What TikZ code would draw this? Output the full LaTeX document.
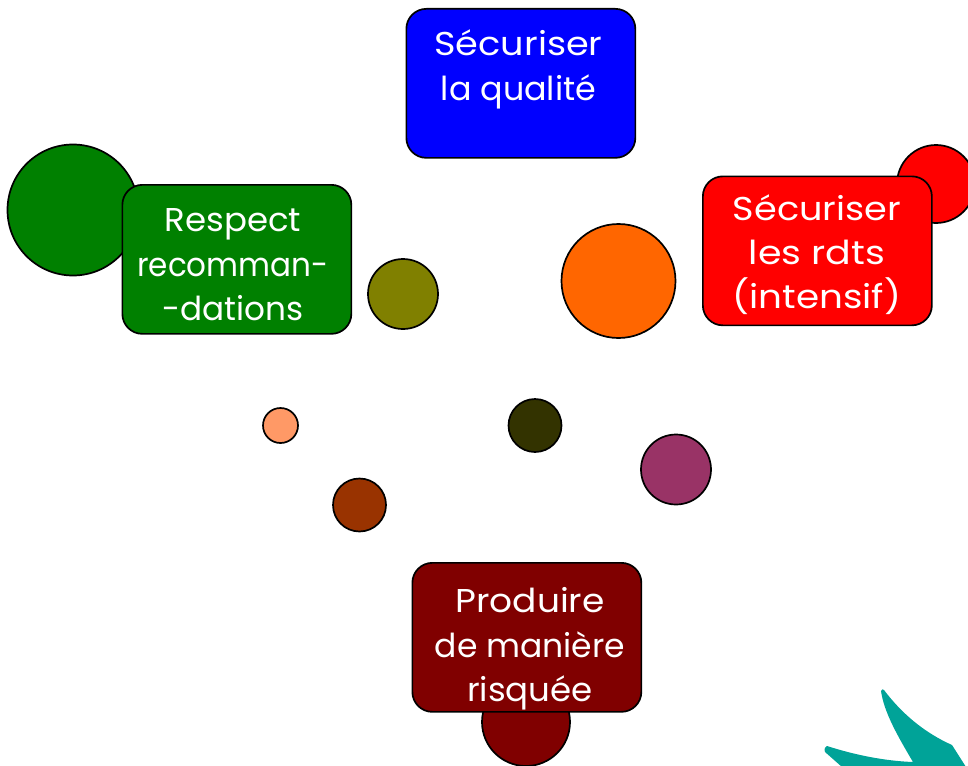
\documentclass[tikz,border=0pt]{standalone}
\usepackage{graphicx}
\usepackage{fontspec}
\setmainfont{Poppins}
\newcommand{\sx}[2]{\scalebox{#1}[1]{#2}}
\begin{document}
\begin{tikzpicture}[x=1pt,y=-1pt,
  dot/.style={circle,draw=black,line width=1.7pt,inner sep=0pt},
  card/.style={draw=black,line width=1.7pt,rounded corners=20pt,minimum width=229pt,minimum height=149pt,anchor=north west},
  lbl/.style={text=white,font=\fontsize{33}{38}\selectfont,anchor=base,inner sep=0pt}]
\useasboundingbox (0,0) rectangle (968,765);
\fill[white] (0,0) rectangle (968,765);
\clip (0,0) rectangle (968,765);
\node[dot,fill={rgb,255:red,0;green,128;blue,0},minimum size=131pt] (c1) at (73,210) {};
\node[dot,fill=red,minimum size=78pt] (c2) at (936,184) {};
\node[dot,fill={rgb,255:red,128;green,0;blue,0},minimum size=88pt] (c3) at (526,722) {};
\node[dot,fill={rgb,255:red,128;green,128;blue,0},minimum size=70pt] (c4) at (403,294) {};
\node[dot,fill={rgb,255:red,255;green,102;blue,0},minimum size=114pt] (c5) at (618.5,281) {};
\node[dot,fill={rgb,255:red,255;green,153;blue,102},minimum size=35pt] (c6) at (280.5,425.5) {};
\node[dot,fill={rgb,255:red,51;green,51;blue,0},minimum size=53pt] (c7) at (535,425.5) {};
\node[dot,fill={rgb,255:red,153;green,51;blue,102},minimum size=70pt] (c8) at (676,469.5) {};
\node[dot,fill={rgb,255:red,153;green,51;blue,0},minimum size=53pt] (c9) at (359.5,505) {};
\node[card,fill=blue] (b1) at (405.5,8) {};
\node[card,fill={rgb,255:red,0;green,128;blue,0}] (b2) at (121.5,184) {};
\node[card,fill=red] (b3) at (702,175.5) {};
\node[card,fill={rgb,255:red,128;green,0;blue,0}] (b4) at (411.5,562) {};
\node[lbl] (t1a) at (518.5,55.5) {\sx{1.11}{Sécuriser}};
\node[lbl] (t1b) at (518.5,101) {\sx{1.01}{la qualité}};
\node[lbl] (t2a) at (233,231.5) {\sx{1.03}{Respect}};
\node[lbl] (t2b) at (233,276.5) {\sx{0.94}{recomman-}};
\node[lbl] (t2c) at (233,320.5) {\sx{0.99}{-dations}};
\node[lbl] (t3a) at (817,220) {\sx{1.11}{Sécuriser}};
\node[lbl] (t3b) at (817,264) {\sx{1.15}{les rdts}};
\node[lbl] (t3c) at (817,308) {\sx{1.13}{(intensif)}};
\node[lbl] (t4a) at (530,612.5) {\sx{1.09}{Produire}};
\node[lbl] (t4b) at (530,657.5) {\sx{1.0}{de manière}};
\node[lbl] (t4c) at (530,701.5) {\sx{1.03}{risquée}};
\fill[fill={rgb,255:red,0;green,163;blue,152}] (881,691) .. controls (882,689) and (883,689) .. (884,690) .. controls (902,714) and (925,733) .. (952,745) -- (966,767) -- (842,767) -- (825,752) .. controls (824,749) and (825,746) .. (827,746) .. controls (855,755) and (885,761) .. (913,762) .. controls (897,735) and (884,712) .. (881,691) -- cycle;
\end{tikzpicture}
\end{document}
